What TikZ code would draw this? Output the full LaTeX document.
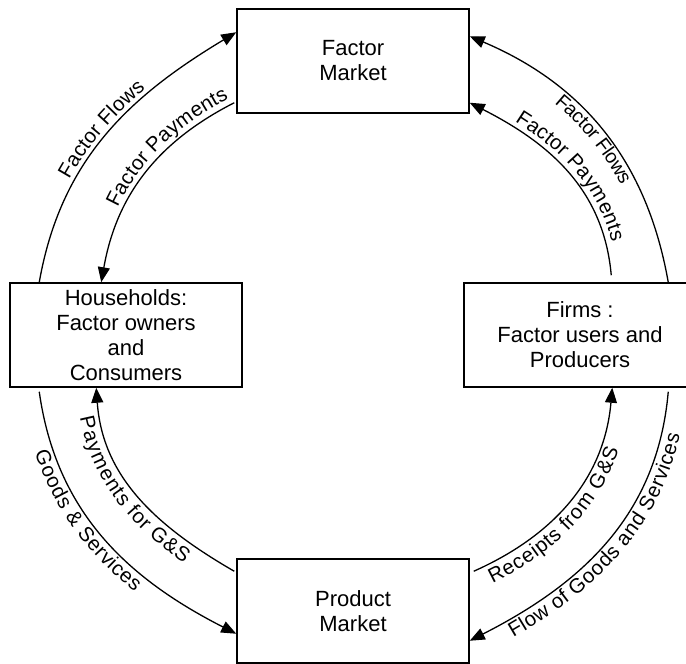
\documentclass[tikz,border=0pt]{standalone}
\usepackage{fontspec}
\setmainfont{Liberation Sans}
\usetikzlibrary{arrows.meta,decorations.text,calc}
\newcommand{\boxfont}{\fontsize{22}{25}\selectfont}
\newcommand{\lblfont}{\fontsize{20.5}{24}\selectfont}
\newcommand{\smlblfont}{\fontsize{19.5}{23}\selectfont}
\begin{document}
\begin{tikzpicture}[x=1pt,y=1pt,
  box/.style={draw, line width=1.5pt, rectangle, minimum width=232pt, minimum height=104pt, inner sep=0pt, align=center, font=\boxfont},
  arr/.style={line width=1.3pt, -{Triangle[length=15pt,width=12pt]}},
  lbl/.style={decorate, decoration={text along path, #1}}
]
\useasboundingbox (0,0) rectangle (686,664);
\node[box] (fm) at (353,603) {Factor\\Market};
\node[box] (hh) at (126,329) {Households:\\Factor owners\\and\\Consumers};
\node[box] (fi) at (580,329) {Firms :\\Factor users and\\Producers};
\node[box] (pm) at (353,53) {Product\\Market};

\coordinate (a1s) at ($(hh.north west)+(30,0)$);
\coordinate (a1e) at ($(fm.north west)+(0,-24)$);
\coordinate (a2s) at ($(fm.south west)+(-2,11)$);
\coordinate (a2e) at ($(hh.north west)+(92,0)$);
\coordinate (a3s) at ($(fi.north west)+(205,0)$);
\coordinate (a3e) at ($(fm.north east)+(0,-28)$);
\coordinate (a4s) at ($(fi.north west)+(148,7)$);
\coordinate (a4e) at ($(fm.south east)+(0,11)$);
\coordinate (a5s) at ($(hh.south west)+(30,-4)$);
\coordinate (a5e) at ($(pm.south west)+(0,30)$);
\coordinate (a6s) at ($(pm.north west)+(-2,-13)$);
\coordinate (a6e) at ($(hh.south west)+(87,0)$);
\coordinate (a7s) at ($(pm.north east)+(4,-13)$);
\coordinate (a7e) at ($(fi.south west)+(149,0)$);
\coordinate (a8s) at ($(fi.south west)+(205,-4)$);
\coordinate (a8e) at ($(pm.south east)+(0,23)$);

% arrows
\draw[arr] (a1s) to[out=80,in=211] (a1e);
\draw[arr] (a2s) to[out=207,in=80] (a2e);
\draw[arr] (a3s) to[out=100,in=337] (a3e);
\draw[arr] (a4s) to[out=95,in=333] (a4e);
\draw[arr] (a5s) to[out=278,in=153] (a5e);
\draw[arr] (a6s) to[out=150,in=274] (a6e);
\draw[arr] (a7s) to[out=24,in=265] (a7e);
\draw[arr] (a8s) to[out=265,in=27] (a8e);

% labels
\path[lbl={text={|\lblfont|Factor Flows}, text align=center, raise=5pt}] (a1s) to[out=80,in=211] (a1e);
\path[lbl={text={|\lblfont|Factor Payments}, text align={right, right indent=3pt}, raise=6pt}] (a2e) to[out=80,in=207] (a2s);
\path[lbl={text={|\smlblfont|Factor Flows}, text align=center, raise=-15pt}] (a3e) to[out=337,in=100] (a3s);
\path[lbl={text={|\lblfont|Factor Payments}, text align={center, left indent=16pt}, raise=6pt}] (a4e) to[out=333,in=95] (a4s);
\path[lbl={text={|\lblfont|Goods {\&} Services}, text align={center, right indent=50pt}, raise=-18pt}] (a5s) to[out=278,in=153] (a5e);
\path[lbl={text={|\lblfont|Payments for G{\&}S}, text align={center, right indent=20pt}, raise=-20pt}] (a6e) to[out=274,in=150] (a6s);
\path[lbl={text={|\lblfont|Receipts from G{\&}S}, text align={center, right indent=45pt}, raise=-19pt}] (a7s) to[out=24,in=265] (a7e);
\path[lbl={text={|\lblfont|Flow of Goods and Services}, text align=center, raise=-18pt}] (a8e) to[out=27,in=265] (a8s);
\end{tikzpicture}
\end{document}
